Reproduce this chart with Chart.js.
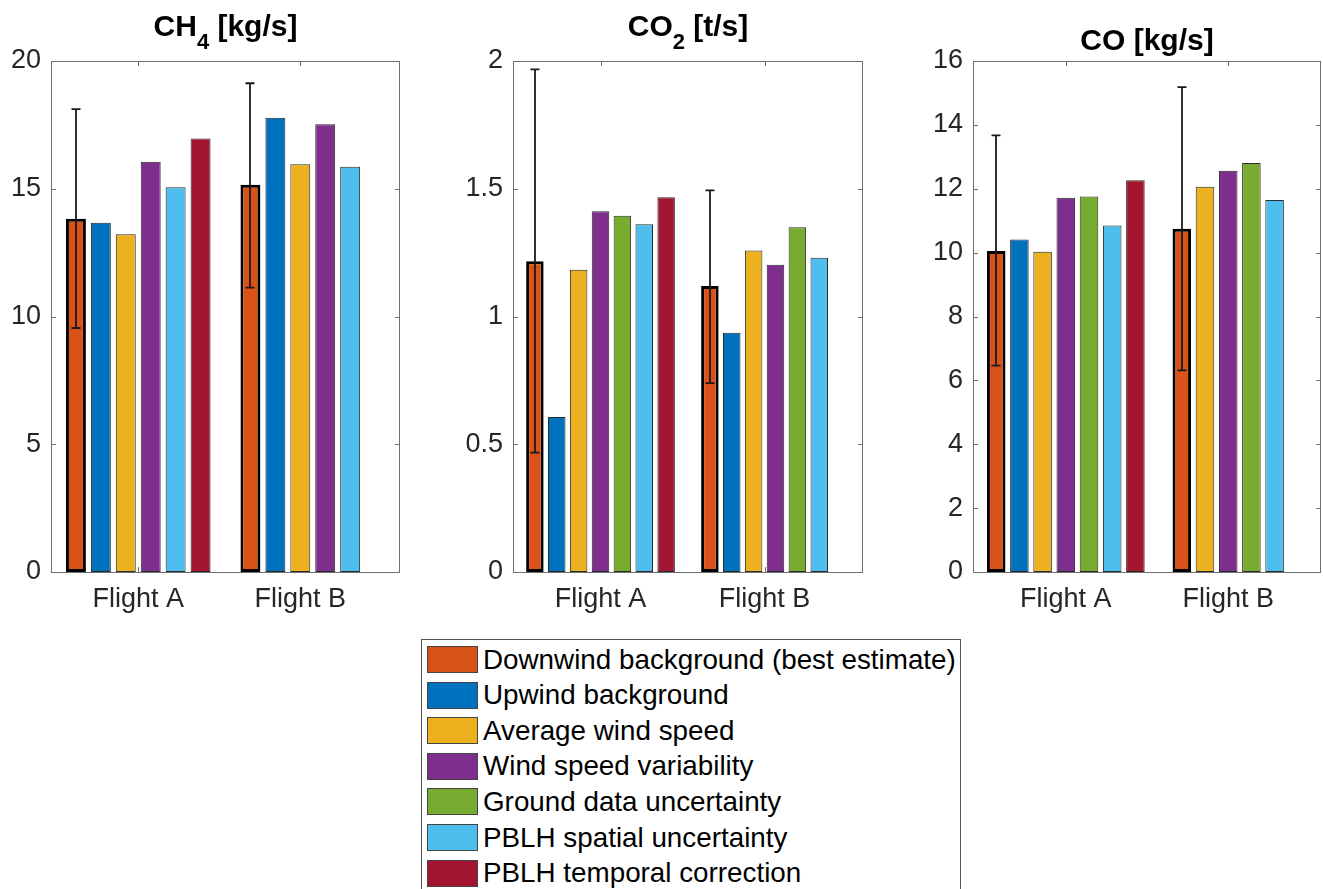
<!DOCTYPE html>
<html>
<head>
<meta charset="utf-8">
<title>Emission estimates by flight</title>
<script src="https://cdn.jsdelivr.net/npm/chart.js@4.4.1/dist/chart.umd.min.js"></script>
<style>
  html, body { margin: 0; padding: 0; background: #ffffff; overflow: hidden; width: 1323px; height: 889px; }
  .panel { position: absolute; top: 0; }
  .panel canvas { display: block; }
  #legend {
    position: absolute; left: 421px; top: 639px; width: 540px; height: 270px;
    box-sizing: border-box; border: 1px solid #555555; background: #ffffff;
    font-family: "Liberation Sans", Arial, sans-serif; font-size: 27.8px; color: #000000;
  }
  #legend .row { position: absolute; left: 5px; height: 27px; display: flex; align-items: center; }
  #legend .swatch { width: 51px; height: 27px; box-sizing: border-box; border: 1px solid #444444; flex: none; }
  #legend .label { margin-left: 5px; white-space: nowrap; }
</style>
</head>
<body>
<div class="panel" style="left:0px"><canvas id="panelCH4" width="402" height="640"></canvas></div>
<div class="panel" style="left:462px"><canvas id="panelCO2" width="403" height="640"></canvas></div>
<div class="panel" style="left:922px"><canvas id="panelCO" width="401" height="640"></canvas></div>
<div id="legend"></div>

<script>
// ---- data ----
const flights = ['Flight A', 'Flight B'];
const seriesNames = [
  'Downwind background (best estimate)',
  'Upwind background',
  'Average wind speed',
  'Wind speed variability',
  'Ground data uncertainty',
  'PBLH spatial uncertainty',
  'PBLH temporal correction'
];

// CH4 [kg/s], one value per series (null = not estimated)
const ch4FlightA = [13.83, 13.67, 13.22, 16.06, null, 15.06, 16.97];
const ch4FlightB = [15.16, 17.78, 15.96, 17.52, null, 15.86, null];
const ch4ErrLow  = [9.55, 11.13];
const ch4ErrHigh = [18.12, 19.13];
const ch4Ticks   = [0, 5, 10, 15, 20];

// CO2 [t/s]
const co2FlightA = [1.216, 0.607, 1.183, 1.412, 1.394, 1.361, 1.467];
const co2FlightB = [1.119, 0.936, 1.258, 1.203, 1.349, 1.230, null];
const co2ErrLow  = [0.467, 0.739];
const co2ErrHigh = [1.967, 1.494];
const co2Ticks   = [0, 0.5, 1, 1.5, 2];

// CO [kg/s]
const coFlightA = [10.05, 10.41, 10.03, 11.72, 11.76, 10.85, 12.27];
const coFlightB = [10.75, null, 12.06, 12.56, 12.81, 11.65, null];
const coErrLow  = [6.46, 6.31];
const coErrHigh = [13.67, 15.18];
const coTicks   = [0, 2, 4, 6, 8, 10, 12, 14, 16];

// ---- styles ----
const seriesColors = ['#D95319', '#0072BD', '#EDB120', '#7E2F8E', '#77AC30', '#4DBEEE', '#A2142F'];
const FONT = '"Liberation Sans", Arial, sans-serif';
const TEXT_COLOR = '#262626';
const AXIS_COLOR = '#707070';

// Bars of one flight sit side by side; one empty slot separates the flights.
function buildDatasets(groups) {
  const datasets = seriesNames.map((name, s) => ({
    label: name,
    data: [],
    backgroundColor: seriesColors[s],
    borderColor: s === 0 ? '#000000' : '#2a2a2a',
    borderWidth: s === 0 ? 3 : 1,
    borderSkipped: false,
    grouped: false,
    categoryPercentage: 1,
    barPercentage: 0.8
  }));
  const centers = [];
  let slot = 0;
  groups.forEach((values, g) => {
    const first = slot;
    values.forEach((v, s) => {
      if (v !== null) {
        datasets[s].data.push({ x: slot, y: v, flight: g });
        slot++;
      }
    });
    centers.push((first + slot - 1) / 2);
    slot++;
  });
  return { datasets, centers, lastSlot: slot - 1 };
}

// Box, inward tick marks, error bars and a title with subscripts.
const matlabAxes = {
  id: 'matlabAxes',
  beforeDatasetsDraw(chart) {
    const { ctx, chartArea: a, scales: { x, y } } = chart;
    ctx.save();
    ctx.strokeStyle = AXIS_COLOR;
    ctx.lineWidth = 1;
    ctx.beginPath();
    x.ticks.forEach(t => {
      const px = Math.round(x.getPixelForValue(t.value)) + 0.5;
      ctx.moveTo(px, a.bottom); ctx.lineTo(px, a.bottom - 5);
      ctx.moveTo(px, a.top); ctx.lineTo(px, a.top + 5);
    });
    y.ticks.forEach(t => {
      const py = Math.round(y.getPixelForValue(t.value)) + 0.5;
      ctx.moveTo(a.left, py); ctx.lineTo(a.left + 5, py);
      ctx.moveTo(a.right, py); ctx.lineTo(a.right - 5, py);
    });
    ctx.stroke();
    ctx.restore();
  },
  afterDatasetsDraw(chart, args, opts) {
    const { ctx, chartArea: a, scales: { y } } = chart;
    // error bars on the best-estimate series
    const meta = chart.getDatasetMeta(0);
    const raw = chart.data.datasets[0].data;
    ctx.save();
    ctx.strokeStyle = '#1a1a1a';
    ctx.lineWidth = 1.8;
    meta.data.forEach((bar, i) => {
      const g = raw[i].flight;
      const cx = Math.round(bar.x);
      const yl = y.getPixelForValue(opts.errLow[g]);
      const yh = y.getPixelForValue(opts.errHigh[g]);
      ctx.beginPath();
      ctx.moveTo(cx, yl); ctx.lineTo(cx, yh);
      ctx.moveTo(cx - 4.5, yl); ctx.lineTo(cx + 4.5, yl);
      ctx.moveTo(cx - 4.5, yh); ctx.lineTo(cx + 4.5, yh);
      ctx.stroke();
    });
    // axes box
    ctx.strokeStyle = AXIS_COLOR;
    ctx.lineWidth = 1;
    ctx.strokeRect(Math.round(a.left) + 0.5, Math.round(a.top) + 0.5,
                   Math.round(a.right - a.left) - 1, Math.round(a.bottom - a.top));
    ctx.restore();
  },
  afterDraw(chart, args, opts) {
    const { ctx, chartArea: a } = chart;
    const mainFont = 'bold 30px ' + FONT;
    const subFont = 'bold 22px ' + FONT;
    ctx.save();
    let total = 0;
    opts.title.forEach(([text, sub]) => { ctx.font = sub ? subFont : mainFont; total += ctx.measureText(text).width; });
    let xPos = (a.left + a.right) / 2 - total / 2;
    ctx.fillStyle = '#000000';
    ctx.textBaseline = 'alphabetic';
    ctx.textAlign = 'left';
    opts.title.forEach(([text, sub]) => {
      ctx.font = sub ? subFont : mainFont;
      ctx.fillText(text, xPos, opts.titleBaseline + (sub ? 13 : 0));
      xPos += ctx.measureText(text).width;
    });
    ctx.restore();
  }
};

function makePanel(canvasId, title, titleBaseline, groups, errLow, errHigh, yTicks) {
  const { datasets, centers, lastSlot } = buildDatasets(groups);
  return new Chart(document.getElementById(canvasId), {
    type: 'bar',
    data: { datasets },
    plugins: [matlabAxes],
    options: {
      responsive: false,
      animation: false,
      devicePixelRatio: 1,
      layout: { padding: { top: 61, right: 2, left: 0, bottom: 0 } },
      plugins: {
        legend: { display: false },
        tooltip: { enabled: false },
        title: { display: false },
        matlabAxes: { title, titleBaseline, errLow, errHigh }
      },
      scales: {
        x: {
          type: 'linear',
          offset: false,
          min: -1,
          max: lastSlot + 1,
          grid: { display: false, drawTicks: false, offset: false },
          border: { display: false },
          afterBuildTicks: sc => { sc.ticks = centers.map(v => ({ value: v })); },
          afterFit: sc => { sc.height = 68; },
          ticks: {
            autoSkip: false, maxRotation: 0, padding: 11,
            color: TEXT_COLOR, font: { family: FONT, size: 27 },
            callback: (v, i) => flights[i]
          }
        },
        y: {
          type: 'linear',
          min: yTicks[0],
          max: yTicks[yTicks.length - 1],
          grid: { display: false, drawTicks: false },
          border: { display: false },
          afterBuildTicks: sc => { sc.ticks = yTicks.map(v => ({ value: v })); },
          afterFit: sc => { sc.width = 51; },
          ticks: {
            padding: 10, color: TEXT_COLOR, font: { family: FONT, size: 27 },
            callback: v => String(v)
          }
        }
      }
    }
  });
}

makePanel('panelCH4', [['CH', false], ['4', true], [' [kg/s]', false]], 36,
  [ch4FlightA, ch4FlightB], ch4ErrLow, ch4ErrHigh, ch4Ticks);
makePanel('panelCO2', [['CO', false], ['2', true], [' [t/s]', false]], 36,
  [co2FlightA, co2FlightB], co2ErrLow, co2ErrHigh, co2Ticks);
makePanel('panelCO', [['CO [kg/s]', false]], 50,
  [coFlightA, coFlightB], coErrLow, coErrHigh, coTicks);

// legend list
const legend = document.getElementById('legend');
seriesNames.forEach((name, s) => {
  const row = document.createElement('div');
  row.className = 'row';
  row.style.top = (6 + s * 35.6) + 'px';
  const sw = document.createElement('div');
  sw.className = 'swatch';
  sw.style.background = seriesColors[s];
  const lab = document.createElement('span');
  lab.className = 'label';
  lab.textContent = name;
  row.appendChild(sw);
  row.appendChild(lab);
  legend.appendChild(row);
});
</script>
</body>
</html>
